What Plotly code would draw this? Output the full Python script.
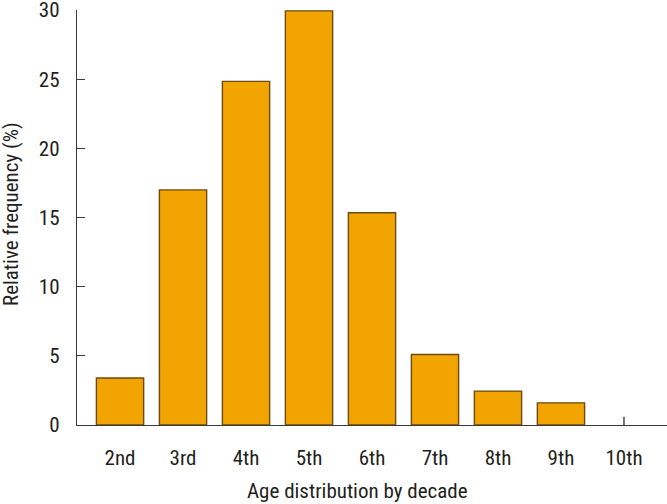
import plotly.graph_objects as go

categories = ["2nd", "3rd", "4th", "5th", "6th", "7th", "8th", "9th", "10th"]
values = [3.4, 17.0, 24.85, 29.95, 15.35, 5.1, 2.45, 1.6, None]
y_ticks = [0, 5, 10, 15, 20, 25, 30]
x_title = "Age distribution by decade"
y_title = "Relative frequency (%)"

FONT = "Roboto Condensed, Roboto, sans-serif"
AXIS_COLOR = "#3a3a3a"
TEXT_COLOR = "#231f20"

fig = go.Figure()
fig.add_trace(go.Bar(
    x=categories,
    y=values,
    marker=dict(color="#F2A400", line=dict(color="#6b4a14", width=1.4)),
    width=0.75,
    showlegend=False,
))

# small tick mark at the last category (as in the original figure)
fig.add_shape(type="line", xref="x", yref="y",
              x0=categories.index("10th"), x1=categories.index("10th"),
              y0=0, y1=0.6, line=dict(color=AXIS_COLOR, width=1.4))

fig.update_layout(
    width=667, height=504,
    margin=dict(l=77, r=0, t=10, b=79, autoexpand=False),
    paper_bgcolor="white", plot_bgcolor="white",
    font=dict(family=FONT, size=21, color=TEXT_COLOR),
    bargap=0.25,
)
fig.update_xaxes(
    type="category", automargin=False,
    range=[-0.683, 8.683],
    showline=True, linecolor=AXIS_COLOR, linewidth=1.4,
    showgrid=False, zeroline=False, ticks="",
    ticklabelstandoff=14,
)
fig.update_yaxes(
    range=[0, 30.01], automargin=False,
    tickvals=y_ticks,
    showline=True, linecolor=AXIS_COLOR, linewidth=1.4,
    showgrid=False, zeroline=False,
    ticks="inside", ticklen=8, tickwidth=1.4, tickcolor=AXIS_COLOR,
    ticklabelstandoff=12, ticklabeloverflow="allow",
)
fig.add_annotation(text=x_title, xref="paper", yref="paper",
                   x=(357 - 77) / 590, y=-(491 - 425) / 415,
                   xanchor="center", yanchor="middle", showarrow=False)
fig.add_annotation(text=y_title, xref="paper", yref="paper",
                   x=-(77 - 11) / 590, y=(425 - 214) / 415,
                   xanchor="center", yanchor="middle", showarrow=False,
                   textangle=-90)

fig.write_html("out.html", config={"displayModeBar": False},
               post_script="document.body.style.margin='0';")
